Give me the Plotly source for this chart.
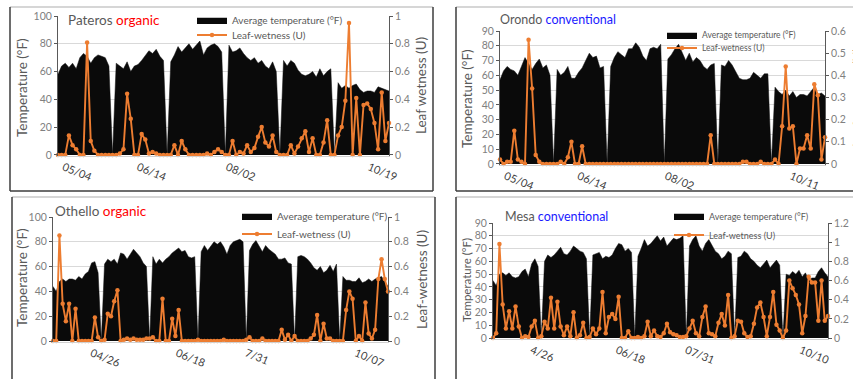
import pandas as pd
import plotly.graph_objects as go

# ---------------- data ----------------
# Pateros / Orondo: 2-day samples starting 1 May
pat_start = "2019-05-01"
pat_temp = [58, 64, 66, 63, 66, 62, 70, 73, 71, 66, 70, 72, 71, 70, 64, 0,
            66, 64, 62, 67, 60, 64, 65, 68, 72, 75, 73, 76, 71, 68, 0,
            67, 72, 78, 74, 77, 80, 76, 79, 82, 72, 77, 79, 80, 78, 74, 0,
            79, 74, 75, 77, 73, 70, 68, 70, 66, 68, 64, 62, 67, 60, 0,
            68, 64, 68, 66, 61, 58, 57, 58, 60, 56, 62, 57, 60, 62, 0,
            52, 48, 50, 48, 50, 51, 47, 45, 46, 46, 45, 49, 48, 47, 46]
pat_wet = [0, 0, 0, 0.14, 0.07, 0.04, 0, 0, 0.81, 0.1, 0.03, 0, 0, 0, 0, 0,
           0, 0.01, 0.04, 0.44, 0.26, 0, 0, 0.15, 0.11, 0.01, 0.02, 0.01, 0, 0, 0,
           0, 0.07, 0, 0.1, 0.04, 0, 0, 0, 0, 0, 0.01, 0, 0.02, 0.04, 0.02, 0,
           0, 0.1, 0, 0.02, 0.01, 0.07, 0.02, 0.05, 0.13, 0.2, 0.09, 0.06, 0.14, 0.02, 0,
           0, 0, 0.07, 0.01, 0.06, 0.12, 0.17, 0.02, 0.12, 0, 0, 0.09, 0.25, 0, 0,
           0.14, 0.2, 0.39, 0.95, 0, 0.41, 0, 0.36, 0.37, 0.33, 0.23, 0.04, 0.45, 0.1, 0.23]

oro_temp = [57, 63, 66, 64, 63, 60, 66, 72, 68, 64, 68, 71, 65, 67, 60, 0,
            64, 60, 62, 66, 58, 58, 62, 65, 70, 75, 72, 73, 65, 66, 0,
            66, 72, 76, 74, 72, 78, 78, 82, 79, 73, 70, 78, 79, 78, 81, 0,
            71, 74, 78, 81, 76, 70, 75, 69, 72, 70, 66, 64, 67, 68, 0,
            67, 66, 70, 67, 62, 58, 57, 57, 58, 62, 60, 58, 61, 61, 0,
            52, 49, 47, 50, 46, 49, 45, 47, 47, 46, 49, 52, 47, 48, 46]
oro_wet = [0.02, 0, 0.01, 0.01, 0.15, 0.02, 0.01, 0, 0.56, 0.34, 0.04, 0.01, 0, 0, 0, 0,
           0, 0.01, 0, 0.03, 0.1, 0, 0, 0.08, 0, 0, 0, 0, 0, 0, 0,
           0, 0, 0, 0, 0, 0, 0, 0, 0, 0, 0, 0, 0, 0, 0, 0,
           0, 0, 0, 0, 0, 0, 0, 0, 0, 0, 0, 0, 0.13, 0, 0,
           0, 0, 0, 0, 0, 0, 0.01, 0.01, 0, 0, 0, 0.01, 0, 0, 0,
           0.02, 0, 0.17, 0.44, 0.16, 0.17, 0, 0.07, 0.07, 0.13, 0.07, 0.36, 0.31, 0.02, 0.12]

# Othello / Mesa: 2-day samples starting 2 April
oth_start = "2019-04-02"
oth_temp = [44, 40, 48, 50, 48, 50, 50, 49, 52, 50, 54, 56, 63, 64, 55, 0,
            62, 66, 64, 66, 62, 71, 70, 66, 70, 74, 71, 68, 63, 60, 0,
            68, 62, 66, 63, 66, 68, 71, 73, 75, 72, 73, 68, 67, 68, 0,
            72, 77, 73, 77, 80, 78, 80, 76, 70, 77, 80, 81, 82, 80, 0,
            73, 78, 81, 77, 72, 77, 74, 72, 70, 66, 66, 67, 63, 62, 0,
            68, 69, 68, 66, 63, 59, 57, 60, 55, 57, 61, 56, 62, 0,
            52, 49, 49, 48, 48, 51, 47, 48, 50, 48, 50, 51, 52, 48, 44]
oth_wet = [0, 0, 0.85, 0.3, 0.16, 0.3, 0, 0.26, 0, 0, 0, 0, 0, 0.19, 0.03, 0,
           0.01, 0.22, 0.2, 0.32, 0.41, 0, 0.01, 0.02, 0.01, 0.02, 0.01, 0.01, 0.01, 0.02, 0.02,
           0.03, 0, 0, 0.34, 0, 0, 0.18, 0.04, 0.25, 0, 0, 0, 0, 0, 0.01,
           0, 0, 0, 0, 0, 0, 0, 0.01, 0, 0, 0, 0, 0, 0, 0.01,
           0.03, 0, 0, 0, 0.02, 0, 0, 0, 0, 0, 0.09, 0.01, 0.05, 0, 0.04,
           0, 0, 0, 0, 0.02, 0.05, 0.21, 0, 0.14, 0.02, 0.02, 0, 0, 0,
           0, 0.25, 0.4, 0.34, 0, 0.04, 0, 0.31, 0.06, 0.02, 0.09, 0.5, 0.66, 0.5, 0.4]

mes_temp = [45, 41, 50, 51, 49, 51, 48, 47, 48, 52, 54, 48, 58, 62, 56, 0,
            60, 65, 63, 65, 68, 71, 66, 65, 68, 72, 70, 68, 67, 62, 0,
            65, 66, 67, 62, 64, 63, 65, 70, 74, 73, 68, 70, 67, 0,
            64, 70, 77, 72, 74, 77, 80, 76, 79, 72, 75, 78, 77, 78, 80, 0,
            72, 77, 80, 72, 68, 74, 77, 72, 68, 66, 62, 64, 68, 66, 0,
            63, 64, 68, 66, 62, 60, 57, 55, 58, 61, 55, 58, 61, 57, 0,
            50, 49, 52, 50, 53, 48, 51, 45, 47, 47, 52, 55, 51, 48]
mes_wet = [0, 0.05, 0.98, 0.35, 0.1, 0.28, 0.1, 0.33, 0.12, 0, 0.02, 0.01, 0.12, 0.18, 0, 0.02,
           0.17, 0.1, 0.42, 0.1, 0.38, 0.12, 0.03, 0.12, 0.02, 0.27, 0, 0.03, 0.16, 0, 0.01,
           0.1, 0.04, 0.1, 0.48, 0.05, 0.22, 0.25, 0.2, 0.43, 0, 0, 0.07, 0, 0,
           0.01, 0, 0.02, 0.17, 0.02, 0.08, 0.02, 0.01, 0.05, 0.15, 0.06, 0.04, 0.03, 0.01, 0.01, 0.02,
           0.1, 0.18, 0.05, 0.02, 0.22, 0.33, 0.05, 0.04, 0.02, 0.16, 0.25, 0.13, 0.45, 0, 0.02,
           0.18, 0.17, 0.05, 0.01, 0.02, 0.15, 0.32, 0.37, 0.22, 0.02, 0.22, 0.48, 0.14, 0.08, 0,
           0.08, 0.6, 0.52, 0.45, 0.35, 0.05, 0.23, 0.64, 0.58, 0.58, 0.18, 0.6, 0.18, 0.23]

pat_ticks = ["2019-05-04", "2019-06-14", "2019-08-02", "2019-10-19"]
pat_ticktext = ["05/04", "06/14", "08/02", "10/19"]
oro_ticks = ["2019-05-04", "2019-06-14", "2019-08-02", "2019-10-11"]
oro_ticktext = ["05/04", "06/14", "08/02", "10/11"]
oth_ticks = ["2019-04-26", "2019-06-18", "2019-07-31", "2019-10-07"]
oth_ticktext = ["04/26", "06/18", "7/31", "10/07"]
mes_ticks = ["2019-04-26", "2019-06-18", "2019-07-31", "2019-10-10"]
mes_ticktext = ["4/26", "06/18", "07/31", "10/10"]

W, H = 853, 379
FONT = "Lato, Roboto, Liberation Sans, sans-serif"
GREY = "#595959"
ORANGE = "#ED7D31"


def px(x):
    return x / W


def py(y):
    return 1 - y / H


panels = [
    dict(name="Pateros", kind="organic", kcol="#ff0000", start=pat_start, temp=pat_temp, wet=pat_wet,
         ticks=pat_ticks, ticktext=pat_ticktext, box=(58, 389, 16, 156), tmax=100, tdt=20, wmax=1, wdt=0.2,
         title_xy=(66, 20), tsize=13.5, leg=(235, 20, 35), lsize=10,
         ltitle=("Temperature (°F)", 22, 88, 13.5), rtitle=("Leaf wetness (U)", 421, 86, 13.5)),
    dict(name="Orondo", kind="conventional", kcol="#1a1aff", start=pat_start, temp=oro_temp, wet=oro_wet,
         ticks=oro_ticks, ticktext=oro_ticktext, box=(500, 825, 31, 165), tmax=90, tdt=10, wmax=0.6, wdt=0.1,
         title_xy=(498, 20), tsize=12.5, leg=(705, 35, 48), lsize=8.5,
         ltitle=("Temperature (°F)", 467, 98, 13.5), rtitle=("Leaf-wetness (U)", 858, 98, 13.5)),
    dict(name="Othello", kind="organic", kcol="#ff0000", start=oth_start, temp=oth_temp, wet=oth_wet,
         ticks=oth_ticks, ticktext=oth_ticktext, box=(53, 388, 217, 342), tmax=100, tdt=20, wmax=1, wdt=0.2,
         title_xy=(53, 211), tsize=13.5, leg=(280, 216, 234), lsize=10,
         ltitle=("Temperature (°F)", 22, 278, 13.5), rtitle=("Leaf-wetness (U)", 422, 280, 13.5)),
    dict(name="Mesa", kind="conventional", kcol="#1a1aff", start=oth_start, temp=mes_temp, wet=mes_wet,
         ticks=mes_ticks, ticktext=mes_ticktext, box=(493, 828, 223, 339), tmax=90, tdt=10, wmax=1.2, wdt=0.2,
         title_xy=(503, 216), tsize=12.5, leg=(712, 216, 235), lsize=9,
         ltitle=("Temperature (°F)", 466, 280, 11.5), rtitle=("Leaf-wetness (U)", 858, 282, 12)),
]

fig = go.Figure()
annotations = []
layout = {}

for k, p in enumerate(panels):
    n = k + 1
    xa = "x" if n == 1 else f"x{n}"
    ya_l = "y" if n == 1 else f"y{2 * n - 1}"
    ya_r = f"y{2 * n}"
    xkey = "xaxis" if n == 1 else f"xaxis{n}"
    ylkey = "yaxis" if n == 1 else f"yaxis{2 * n - 1}"
    yrkey = f"yaxis{2 * n}"
    dates = pd.date_range(p["start"], periods=len(p["temp"]), freq="2D")
    x0, x1, y0, y1 = p["box"]
    lg1 = "legend" if n == 1 else f"legend{2 * n - 1}"
    lg2 = f"legend{2 * n}"

    fig.add_trace(go.Scatter(
        x=dates, y=p["temp"], xaxis=xa, yaxis=ya_l, mode="lines",
        fill="tozeroy", fillcolor="#0a0a0a", line=dict(color="#0a0a0a", width=0.5),
        name="Average temperature (°F)", legend=lg1, hoverinfo="skip"))
    fig.add_trace(go.Scatter(
        x=dates, y=p["wet"], xaxis=xa, yaxis=ya_r, mode="lines+markers",
        line=dict(color=ORANGE, width=1.9), marker=dict(color=ORANGE, size=4.5),
        name="Leaf-wetness (U)", legend=lg2, cliponaxis=False, hoverinfo="skip"))

    pad = 0.008
    layout[xkey] = dict(
        domain=[px(x0), px(x1)], anchor=ya_l, type="date",
        range=[dates[0], dates[-1]], tickvals=p["ticks"], ticktext=p["ticktext"],
        tickangle=22, tickfont=dict(family=FONT, size=11, color="#404040"),
        showgrid=False, showline=True, linecolor="#d0d0d0", linewidth=1, ticks="", zeroline=False)
    layout[ylkey] = dict(
        domain=[py(y1), py(y0)], anchor=xa, range=[-pad * p["tmax"], p["tmax"]], dtick=p["tdt"],
        tick0=0, showgrid=True, gridcolor="#d9d9d9", gridwidth=1, zeroline=False,
        showline=True, linecolor=GREY, linewidth=1, ticks="outside", ticklen=3, tickcolor=GREY,
        tickfont=dict(family=FONT, size=10.5, color="#808080"))
    layout[yrkey] = dict(
        overlaying=ya_l, anchor=xa, side="right", range=[-pad * p["wmax"], p["wmax"]],
        dtick=p["wdt"], tick0=0, showgrid=False, zeroline=False,
        showline=True, linecolor=GREY, linewidth=1, ticks="outside", ticklen=3, tickcolor=GREY,
        tickfont=dict(family=FONT, size=10.5, color="#808080"))

    lx, ly1, ly2 = p["leg"]
    for lg, ly in ((lg1, ly1), (lg2, ly2)):
        layout[lg] = dict(x=px(lx - 43), y=py(ly), xanchor="left", yanchor="middle",
                          bgcolor="rgba(0,0,0,0)", itemwidth=30,
                          font=dict(family=FONT, size=p["lsize"], color=GREY))

    tx, ty = p["title_xy"]
    annotations.append(dict(
        x=px(tx), y=py(ty), xref="paper", yref="paper", xanchor="left", yanchor="middle",
        showarrow=False,
        text=f"{p['name']} <span style='color:{p['kcol']}'>{p['kind']}</span>",
        font=dict(family=FONT, size=p["tsize"], color=GREY)))
    for t, xx, yy, sz in (p["ltitle"], p["rtitle"]):
        annotations.append(dict(
            x=px(xx), y=py(yy), xref="paper", yref="paper", xanchor="center", yanchor="middle",
            showarrow=False, textangle=-90, text=t,
            font=dict(family=FONT, size=sz, color=GREY)))

# panel frames
DARK = "#3c3c3c"
LIGHT = "#c8c8c8"
frames = [(10, 433, 7, 191), (456, 856, 7, 191), (12, 435, 197, 382), (456, 856, 197, 382)]
shapes = []
for (a, b, c, d) in frames:
    shapes.append(dict(type="line", xref="paper", yref="paper", x0=px(a), x1=px(b), y0=py(c), y1=py(c),
                       line=dict(color=LIGHT, width=1.5)))
    for (xa0, xa1, ya0, ya1) in ((a, a, c, d), (b, b, c, d), (a, b, d, d)):
        shapes.append(dict(type="line", xref="paper", yref="paper", x0=px(xa0), x1=px(xa1),
                           y0=py(ya0), y1=py(ya1), line=dict(color=DARK, width=1.5)))

fig.update_layout(
    width=W, height=H, margin=dict(l=0, r=0, t=0, b=0, autoexpand=False),
    paper_bgcolor="white", plot_bgcolor="white", hovermode=False,
    showlegend=True, annotations=annotations, shapes=shapes, **layout)

fig.write_html(
    "out.html",
    config={"displayModeBar": False, "staticPlot": True},
    post_script="document.body.style.margin='0';document.body.style.overflow='hidden';"
                "document.documentElement.style.overflow='hidden';")
